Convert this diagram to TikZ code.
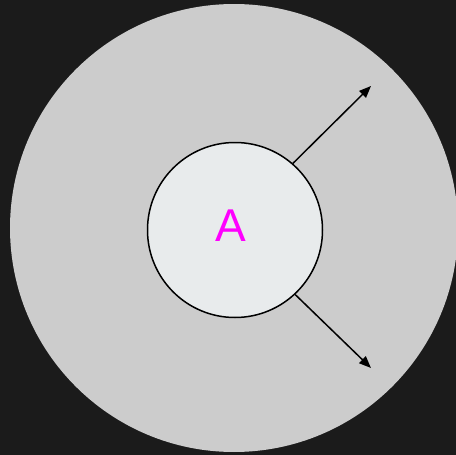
\documentclass[tikz,border=0pt]{standalone}
\usepackage{fontspec}
\setmainfont{Liberation Sans}
\usetikzlibrary{arrows.meta, positioning}
\definecolor{bgdark}{HTML}{1B1B1B}
\definecolor{zone}{HTML}{CCCCCC}
\definecolor{core}{HTML}{E8EBEC}
\definecolor{lblmag}{HTML}{FF00FF}

\begin{document}
\begin{tikzpicture}[x=1pt, y=-1pt,
            zonecirc/.style={circle, fill=zone, draw=none, minimum size=448pt, inner sep=0pt},
            corecirc/.style={circle, fill=core, draw=black, line width=1.5pt, minimum size=175pt, inner sep=0pt},
            lbl/.style={text=lblmag, font=\fontsize{46}{46}\selectfont, inner sep=0pt},
            arr/.style={-{Triangle[length=12pt, width=9.5pt]}, draw=black, line width=1.5pt}]
            \fill[bgdark] (0,0) rectangle (456,455);
            \useasboundingbox (0,0) rectangle (456,455);
            \node[zonecirc] (zone) at (234,228) {};
            \node[corecirc] (A) at (235,230) {};
            \node[lbl] (lblA) at (231,226) {A};
            \coordinate (ne) at (371,86);
            \coordinate (se) at (371,368);
            \draw[arr] (A.49) -- (ne);
            \draw[arr] (A.-47) -- (se);
        \end{tikzpicture}
\end{document}
